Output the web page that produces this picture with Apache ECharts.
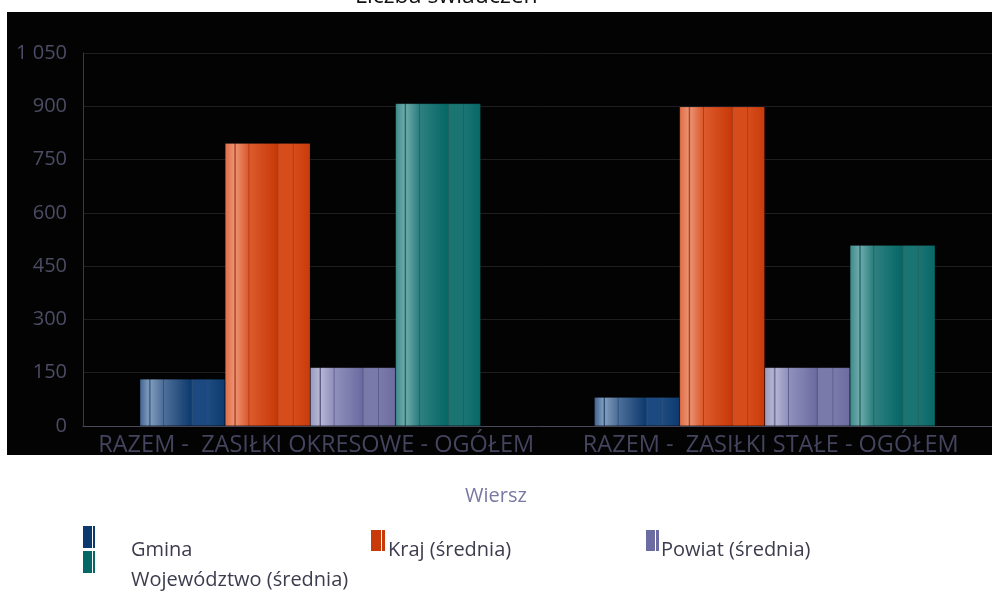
<!DOCTYPE html>
<html>
<head>
<meta charset="utf-8">
<script src="https://cdn.jsdelivr.net/npm/echarts@6/dist/echarts.min.js"></script>
<style>
html,body{margin:0;padding:0;background:#fff;}
#c{width:992px;height:592px;}
</style>
</head>
<body>
<div id="c"></div>
<script>
const categories = ['RAZEM -  ZASIŁKI OKRESOWE - OGÓŁEM', 'RAZEM -  ZASIŁKI STAŁE - OGÓŁEM'];
const seriesNames = ['Gmina', 'Kraj (średnia)', 'Powiat (średnia)', 'Województwo (średnia)'];
const gmina = [132, 81];
const kraj = [796, 899];
const powiat = [165, 165];
const wojewodztwo = [908, 509];
const yTicks = [0, 150, 300, 450, 600, 750, 900, 1050];

function stripes(c) {
  return {
    type: 'linear', x: 0, y: 0, x2: 1, y2: 0,
    colorStops: [
      {offset: 0, color: c[0]},
      {offset: 0.1, color: c[1]},
      {offset: 0.12, color: c[5]},
      {offset: 0.13, color: c[1]},
      {offset: 0.27, color: c[2]},
      {offset: 0.28, color: c[5]},
      {offset: 0.29, color: c[2]},
      {offset: 0.6, color: c[3]},
      {offset: 0.62, color: c[5]},
      {offset: 0.63, color: c[4]},
      {offset: 0.79, color: c[4]},
      {offset: 0.80, color: c[5]},
      {offset: 0.81, color: c[4]},
      {offset: 1, color: c[3]}
    ]
  };
}
const fills = [
  stripes(['#3e6290', '#7f9aba', '#4d6f99', '#0d3a6e', '#1c4a80', '#2a4e78']),
  stripes(['#e06c44', '#ea9070', '#dc5a2c', '#c93a0a', '#d64c1a', '#a83a18']),
  stripes(['#9a9ac0', '#b4b4d2', '#9090bc', '#6c6ca2', '#7a7aaa', '#5a5a88']),
  stripes(['#3d8a8a', '#6aa8a8', '#2e8080', '#066866', '#1a7472', '#1f5e5e'])
];
const legendColors = ['#0d3a6e', '#c93a0a', '#6c6ca2', '#066866'];
const data = [gmina, kraj, powiat, wojewodztwo];

const chart = echarts.init(document.getElementById('c'), null, {renderer: 'canvas'});
const lf = 'Open Sans, Noto Sans, sans-serif';
// icon drawn in the top part of a taller item box, so the label sits lower
function iconPath(w, h, total) {
  const a = Math.round(w * 0.72);
  return 'path://M0,0h' + a + 'v' + h + 'h-' + a + 'z M' + (a + 1) + ',0h' + (w - a - 1) + 'v' + h + 'h-' + (w - a - 1) + 'z M0,' + total + 'h0.01v-0.01h-0.01z';
}
function legendItem(idx, left, top, w, h, total, padLeft) {
  return {
    data: [{name: seriesNames[idx], icon: iconPath(w, h, total),
            itemStyle: {color: legendColors[idx], borderWidth: 0}}],
    left: left, top: top, orient: 'horizontal',
    itemWidth: w, itemHeight: total, itemGap: 0, padding: 0,
    selectedMode: false,
    itemStyle: {color: legendColors[idx], borderWidth: 0},
    textStyle: {fontFamily: lf, fontSize: 20, color: '#3c3c4e', padding: [0, 0, 0, padLeft]}
  };
}
chart.setOption({
  backgroundColor: '#fff',
  animation: false,
  title: [
    {text: 'Liczba świadczeń', left: 355, top: -15, padding: 0,
     textStyle: {fontFamily: lf, fontSize: 23, fontWeight: 'normal', color: '#111'}},
    {text: 'Wiersz', left: 'center', top: 486, padding: 0,
     textStyle: {fontFamily: lf, fontSize: 20, fontWeight: 'normal', color: '#7878a0'}}
  ],
  graphic: [
    {type: 'rect', left: 7, top: 12, shape: {width: 985, height: 443}, style: {fill: '#030303'}, z: -10, silent: true}
  ],
  legend: [
    legendItem(0, 83, 526, 12, 22, 48, 31),
    legendItem(1, 371, 530, 14, 21, 40, -2),
    legendItem(2, 646, 530, 13, 21, 40, -3),
    legendItem(3, 83, 551, 12, 22, 58, 31)
  ],
  grid: {left: 83, top: 53, width: 912, height: 373, containLabel: false},
  xAxis: {
    type: 'category', data: categories,
    axisLine: {lineStyle: {color: '#4a4a5a', width: 1}},
    axisTick: {show: false},
    axisLabel: {fontFamily: lf, fontSize: 23.5, color: '#44445e', margin: 7, interval: 0, padding: [0, 0, 0, 12]},
    splitLine: {show: false}
  },
  yAxis: {
    type: 'value', min: 0, max: 1050, interval: 150,
    axisLine: {show: true, lineStyle: {color: '#3a3a44'}},
    axisTick: {show: false},
    axisLabel: {fontFamily: lf, fontSize: 20, color: '#4c4c64', margin: 16,
      formatter: v => yTicks.includes(v) ? String(v).replace(/\B(?=(\d{3})+(?!\d))/g, ' ') : ''},
    splitLine: {lineStyle: {color: '#1e1e22', width: 1}}
  },
  series: seriesNames.map((n, i) => ({
    name: n, type: 'bar', data: data[i],
    barGap: '0%', barCategoryGap: '25%',
    color: legendColors[i],
    itemStyle: {color: fills[i], borderColor: 'rgba(0,0,0,0.35)', borderWidth: 0.5}
  }))
});
</script>
</body>
</html>
